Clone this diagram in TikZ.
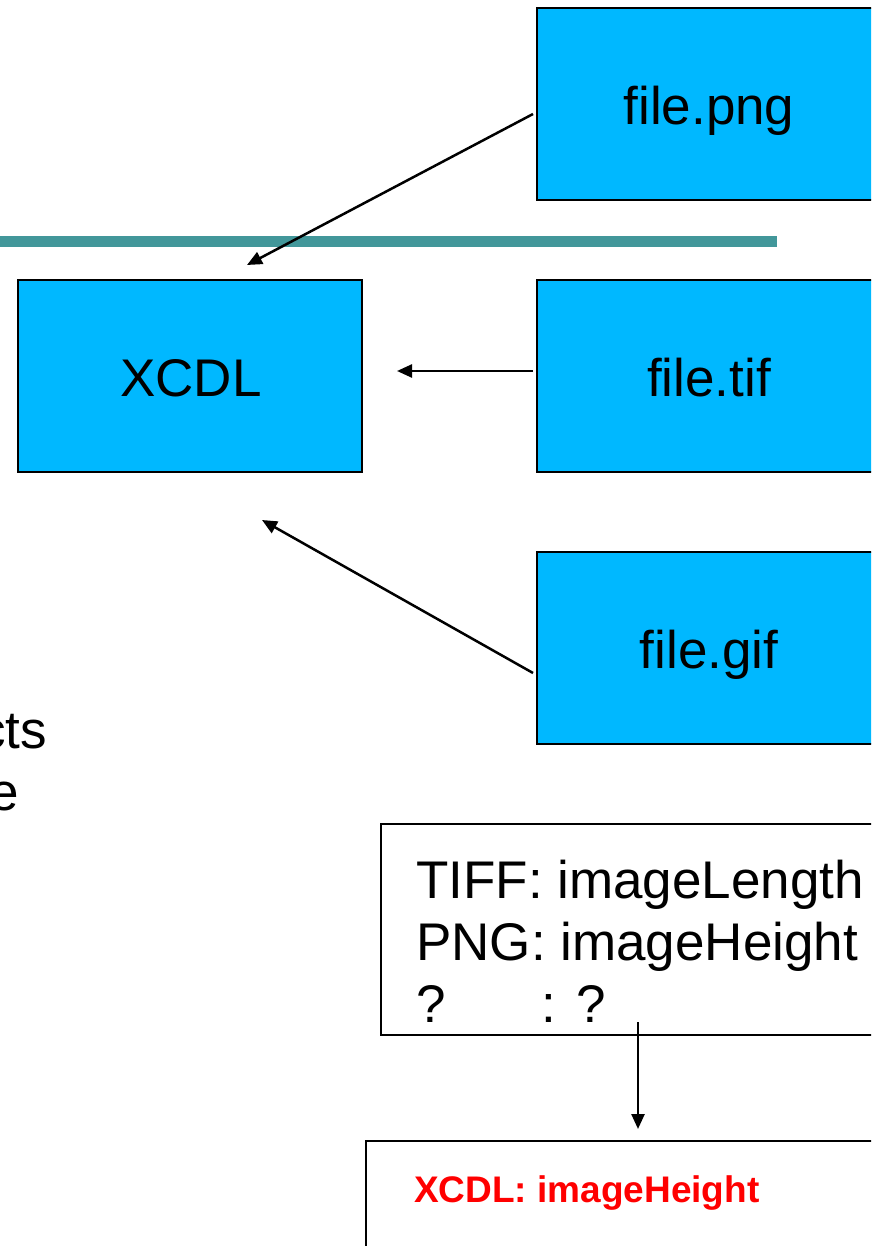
\documentclass[tikz,border=0pt]{standalone}
\usepackage{fontspec}
\setmainfont{Liberation Sans}
\usetikzlibrary{arrows.meta}
\definecolor{boxblue}{RGB}{0,184,255}
\definecolor{barteal}{RGB}{66,151,154}
\definecolor{redtxt}{RGB}{255,0,0}
\begin{document}
\begin{tikzpicture}[x=1pt,y=-1pt,
  filebox/.style={draw=black,line width=2pt,fill=boxblue},
  plainbox/.style={draw=black,line width=2pt,fill=white},
  bigtxt/.style={font=\fontsize{53}{62}\selectfont,inner sep=0pt},
  conn/.style={line width=2.5pt,-{Triangle[length=15pt,width=13pt]}}]
\useasboundingbox (0,0) rectangle (871,1246);
\clip (0,0) rectangle (871,1246);
\fill[white] (0,0) rectangle (871,1246);
% boxes
\draw[filebox] (537,8) rectangle (883,200);
\draw[filebox] (18,280) rectangle (362,472);
\draw[filebox] (537,280) rectangle (883,472);
\draw[filebox] (537,552) rectangle (883,744);
\draw[plainbox] (381,824) rectangle (900,1035);
\draw[plainbox] (366,1141) rectangle (900,1280);
% teal bar
\fill[barteal] (0,236) rectangle (777,247);
% labels
\node[bigtxt,anchor=base] (png) at (709,125) {file.png};
\node[bigtxt,anchor=base] (xcdl) at (191,396) {XCDL};
\node[bigtxt,anchor=base] (tif) at (709,396) {file.tif};
\node[bigtxt,anchor=base] (gif) at (709,668) {file.gif};
\node[bigtxt,anchor=base west] (l1) at (416,898) {TIFF: imageLength};
\node[bigtxt,anchor=base west] (l2) at (416,960) {PNG: imageHeight};
\node[bigtxt,anchor=base west] (l3) at (416,1022) {?\hspace{96pt}: ?};
\node[font=\bfseries\fontsize{37}{44}\selectfont,text=redtxt,inner sep=0pt,anchor=base west] (red) at (414,1202) {XCDL: imageHeight};
\node[bigtxt,anchor=base east] (cts) at (47,748) {cts};
\node[bigtxt,anchor=base east] (e) at (19,810) {e};
% connector endpoints
\coordinate (pngs) at (533,114);
\coordinate (pnge) at (247,265);
\coordinate (tifs) at (533,371);
\coordinate (tife) at (397,371);
\coordinate (gifs) at (533,673);
\coordinate (gife) at (262,520);
\coordinate (txts) at (638,1022);
\coordinate (txte) at (638,1129);
\draw[conn] (pngs) -- (pnge);
\draw[conn] (tifs) -- (tife);
\draw[conn] (gifs) -- (gife);
\draw[conn] (txts) -- (txte);
\end{tikzpicture}
\end{document}
